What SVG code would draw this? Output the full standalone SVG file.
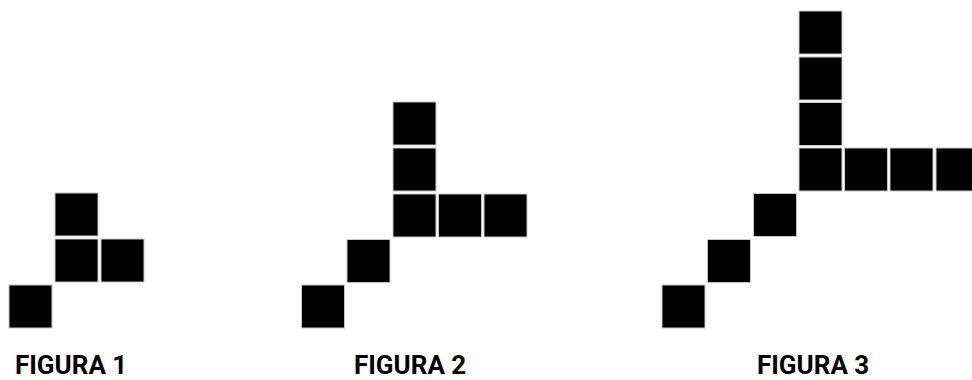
<svg xmlns="http://www.w3.org/2000/svg" width="972" height="380" viewBox="0 0 972 380">
<style>
.sq{fill:#000;stroke:#c8c8c8;stroke-width:1}
.lbl{font-family:Roboto,"Liberation Sans",sans-serif;font-weight:700;font-size:26px;fill:#000}
</style>
<defs><rect id="s" class="sq" width="43" height="43"/></defs>
<rect width="972" height="380" fill="#fff"/>
<g id="figura1">
<use href="#s" x="55" y="193"/>
<use href="#s" x="55" y="239"/>
<use href="#s" x="101" y="239"/>
<use href="#s" x="9" y="285"/>
<text class="lbl" x="15" y="374">FIGURA 1</text>
</g>
<g id="figura2">
<use href="#s" x="393" y="102"/>
<use href="#s" x="393" y="148"/>
<use href="#s" x="393" y="194"/>
<use href="#s" x="438.5" y="194"/>
<use href="#s" x="484" y="194"/>
<use href="#s" x="347" y="239.5"/>
<use href="#s" x="301.5" y="285"/>
<text class="lbl" x="354" y="374">FIGURA 2</text>
</g>
<g id="figura3">
<use href="#s" x="799" y="11"/>
<use href="#s" x="799" y="57"/>
<use href="#s" x="799" y="102.5"/>
<use href="#s" x="799" y="148"/>
<use href="#s" x="844.5" y="148"/>
<use href="#s" x="890" y="148"/>
<use href="#s" x="936" y="148"/>
<use href="#s" x="753.5" y="193.5"/>
<use href="#s" x="707.5" y="239.5"/>
<use href="#s" x="662" y="285"/>
<text class="lbl" x="757" y="374">FIGURA 3</text>
</g>
<g id="connectors"/>
</svg>
